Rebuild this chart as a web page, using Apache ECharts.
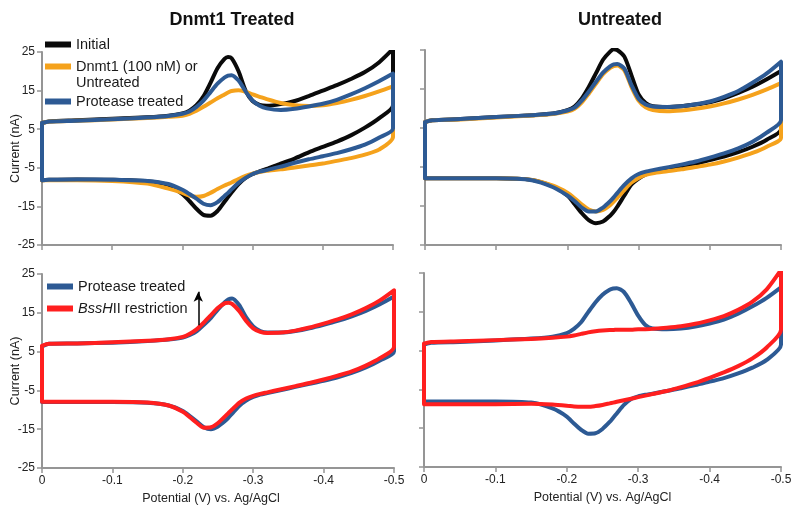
<!DOCTYPE html>
<html><head><meta charset="utf-8">
<script src="https://cdn.jsdelivr.net/npm/echarts@6/dist/echarts.min.js"></script>
<style>html,body{margin:0;padding:0;background:#fff}#c{width:800px;height:514px}</style>
</head><body><div id="c"></div>
<script>
// Potential grid (V vs Ag/AgCl)
const potential = [0, -0.01, -0.05, -0.1, -0.15, -0.18, -0.2, -0.21, -0.22, -0.23, -0.24, -0.25, -0.26, -0.265, -0.27, -0.28, -0.29, -0.3, -0.31, -0.32, -0.34, -0.36, -0.38, -0.4, -0.42, -0.44, -0.46, -0.48, -0.5];
const yTickValues = [-25, -15, -5, 5, 15, 25];
const xTickValues = [0, -0.1, -0.2, -0.3, -0.4, -0.5];
const panelTitles = ['Dnmt1 Treated', 'Untreated'];

// Panel 1: Dnmt1 Treated (top-left)
const tlInitialUp   = [6.6, 7.0, 7.3, 7.7, 8.1, 8.5, 9.1, 9.8, 11.2, 13.5, 17.0, 20.8, 23.2, 23.7, 23.4, 20.0, 15.0, 12.3, 11.3, 11.1, 11.5, 12.3, 13.6, 15.0, 16.4, 18.0, 19.8, 22.3, 25.8];
const tlInitialLow  = [-8.2, -8.1, -8.0, -8.1, -8.5, -9.5, -11.8, -13.6, -15.6, -17.2, -17.4, -16.2, -13.8, -12.6, -11.4, -9.2, -7.6, -6.6, -5.9, -5.3, -3.9, -2.6, -1.0, 0.4, 1.8, 3.4, 5.4, 7.8, 11.2];
const tlDnmtUp      = [6.6, 7.0, 7.2, 7.5, 7.9, 8.2, 8.5, 9.0, 9.8, 10.8, 11.9, 13.0, 14.0, 14.5, 14.9, 15.1, 14.7, 14.0, 13.4, 12.8, 11.8, 11.2, 11.0, 11.2, 11.8, 12.6, 13.6, 14.8, 16.1];
const tlDnmtLow     = [-8.2, -8.2, -8.2, -8.4, -9.1, -10.4, -11.5, -12.2, -12.5, -12.3, -11.5, -10.5, -9.6, -9.2, -8.8, -7.9, -7.1, -6.5, -6.1, -5.8, -5.4, -4.9, -4.4, -3.9, -3.2, -2.5, -1.6, -0.3, 3.0];
const tlProteaseUp  = [6.6, 7.0, 7.2, 7.6, 8.0, 8.4, 9.0, 9.6, 10.8, 12.4, 14.6, 16.8, 18.4, 18.9, 19.0, 17.6, 14.8, 12.4, 11.1, 10.4, 10.0, 10.3, 10.9, 11.6, 12.6, 14.0, 15.6, 17.4, 19.4];
const tlProteaseLow = [-8.2, -8.1, -8.0, -8.1, -8.4, -9.2, -10.7, -11.8, -13.0, -14.3, -14.7, -13.9, -12.3, -11.5, -10.6, -8.9, -7.6, -6.6, -6.0, -5.6, -4.7, -3.7, -2.8, -2.0, -1.2, -0.2, 1.0, 2.8, 5.2];

// Panel 2: Untreated (top-right)
const trInitialUp   = [6.5, 7.0, 7.3, 7.8, 8.3, 8.7, 9.6, 10.5, 12.5, 15.5, 19.0, 22.5, 24.6, 25.2, 25.0, 23.3, 18.5, 13.6, 11.4, 10.6, 10.4, 10.6, 11.0, 11.6, 12.6, 14.0, 15.6, 17.5, 19.6];
const trInitialLow  = [-7.9, -7.9, -7.9, -7.9, -8.3, -10.0, -12.3, -14.5, -16.8, -18.6, -19.4, -19.0, -17.5, -16.5, -15.2, -12.3, -9.5, -8.0, -6.9, -6.2, -5.4, -4.9, -4.2, -3.2, -2.3, -1.2, 0.2, 2.0, 4.7];
const trDnmtUp      = [6.5, 7.0, 7.2, 7.7, 8.2, 8.6, 9.2, 9.9, 11.5, 13.8, 16.3, 18.8, 20.4, 20.9, 21.0, 19.8, 15.5, 12.0, 10.3, 9.6, 9.3, 9.5, 9.9, 10.5, 11.3, 12.3, 13.5, 14.9, 16.5];
const trDnmtLow     = [-7.9, -7.9, -7.9, -7.9, -8.3, -9.8, -11.6, -13.0, -14.6, -15.9, -16.4, -16.0, -14.8, -13.9, -12.9, -10.9, -9.0, -7.8, -7.0, -6.6, -6.1, -5.6, -5.0, -4.4, -3.6, -2.6, -1.4, 0.2, 2.5];
const trProteaseUp  = [6.5, 7.0, 7.3, 7.8, 8.3, 8.7, 9.5, 10.2, 12.0, 14.3, 16.8, 19.2, 20.8, 21.3, 21.4, 20.2, 16.0, 12.5, 11.0, 10.5, 10.4, 10.6, 11.1, 11.8, 13.0, 14.5, 16.6, 19.0, 22.0];
const trProteaseLow = [-7.9, -7.9, -7.9, -7.9, -8.4, -10.2, -12.3, -13.7, -15.4, -16.4, -16.4, -15.4, -13.8, -12.8, -11.7, -9.6, -7.9, -6.8, -6.2, -5.8, -5.1, -4.4, -3.6, -2.6, -1.5, -0.2, 1.5, 3.8, 7.0];

// Panel 3: Dnmt1 Treated (bottom-left)
const blProteaseUp  = [6.3, 7.0, 7.1, 7.3, 7.7, 8.1, 8.6, 9.3, 10.3, 11.9, 13.7, 15.9, 17.8, 18.5, 18.7, 17.0, 13.8, 11.5, 10.3, 9.9, 9.9, 10.3, 11.0, 11.9, 12.9, 14.1, 15.5, 17.2, 19.2];
const blProteaseLow = [-8.0, -8.0, -8.0, -8.0, -8.2, -8.9, -10.3, -11.6, -13.0, -14.5, -15.0, -14.3, -12.9, -12.0, -11.0, -9.0, -7.6, -6.7, -6.1, -5.7, -4.9, -4.1, -3.3, -2.5, -1.6, -0.5, 0.9, 2.7, 5.0];
const blBssUp       = [6.5, 7.0, 7.1, 7.4, 7.8, 8.2, 8.8, 9.6, 10.8, 12.5, 14.4, 16.3, 17.5, 17.6, 17.3, 15.5, 12.9, 11.0, 10.1, 9.8, 9.9, 10.4, 11.2, 12.2, 13.3, 14.6, 16.2, 18.2, 20.8];
const blBssLow      = [-7.9, -7.9, -7.9, -7.9, -8.1, -8.9, -10.5, -11.9, -13.4, -14.6, -14.5, -13.4, -11.7, -10.8, -9.9, -8.2, -7.1, -6.4, -5.9, -5.5, -4.7, -3.9, -3.1, -2.2, -1.2, -0.1, 1.4, 3.3, 6.2];

// Panel 4: Untreated (bottom-right)
const brProteaseUp  = [6.5, 7.0, 7.2, 7.6, 8.1, 8.6, 9.5, 10.6, 12.3, 14.9, 17.4, 19.4, 20.7, 21.0, 21.1, 20.1, 17.3, 14.0, 11.6, 10.7, 10.5, 10.7, 11.2, 12.0, 13.0, 14.5, 16.4, 18.6, 21.3];
const brProteaseLow = [-8.1, -8.1, -8.1, -8.1, -8.4, -9.9, -12.0, -13.8, -15.4, -16.4, -16.3, -15.2, -13.4, -12.3, -11.2, -9.0, -7.5, -6.8, -6.4, -6.1, -5.4, -4.7, -3.9, -3.0, -2.1, -0.9, 0.6, 2.6, 6.5];
const brBssUp       = [6.8, 7.2, 7.4, 7.7, 8.0, 8.3, 8.6, 8.9, 9.3, 9.7, 10.0, 10.2, 10.3, 10.3, 10.4, 10.4, 10.4, 10.5, 10.5, 10.6, 10.9, 11.3, 11.9, 12.8, 13.9, 15.5, 17.6, 20.8, 25.8];
const brBssLow      = [-8.8, -8.8, -8.8, -8.8, -8.7, -8.9, -9.2, -9.4, -9.5, -9.5, -9.3, -9.0, -8.6, -8.4, -8.2, -7.8, -7.4, -7.0, -6.6, -6.2, -5.4, -4.4, -3.3, -2.0, -0.6, 1.0, 3.0, 5.8, 10.4];

// Arrow (annotation) in bottom-left panel: potential, from current, to current
const arrowPotential = -0.222;
const arrowFrom = 11.8;
const arrowTo = 20.4;

const C_BLACK = '#0a0a0a', C_ORANGE = '#f5a21c', C_BLUE = '#2d5a94', C_RED = '#ff1f1f';
const N_INIT = 'Initial', N_DNMT = 'Dnmt1 (100 nM) or Untreated', N_PROT = 'Protease treated', N_BSS = 'BssHII restriction';
const FONT = 'Liberation Sans, Arial, sans-serif';

function loop(up, low) {
  const d = [];
  for (let i = 0; i < potential.length; i++) d.push([potential[i], up[i]]);
  for (let i = potential.length - 1; i >= 0; i--) d.push([potential[i], low[i]]);
  d.push([potential[0], up[0]]);
  return d;
}
function ser(name, idx, up, low, color, extra) {
  return Object.assign({
    type: 'line', name: name, xAxisIndex: idx, yAxisIndex: idx,
    data: loop(up, low), symbol: 'none', showSymbol: false, smooth: 0.25,
    lineStyle: { width: 4, color: color, join: 'round', cap: 'round' },
    itemStyle: { color: color }, clip: true
  }, extra || {});
}

const grids = [
  { left: 42, top: 52, width: 351, height: 193 },
  { left: 425, top: 50, width: 356, height: 195 },
  { left: 42, top: 274, width: 352, height: 194 },
  { left: 424, top: 273, width: 357, height: 194 }
];
const axisColor = '#959595';
const xAxes = grids.map((g, i) => ({
  type: 'value', gridIndex: i, min: -0.5, max: 0, inverse: true, interval: 0.1,
  axisLine: { show: true, onZero: false, lineStyle: { color: axisColor, width: 2 } },
  axisTick: { show: true, inside: false, length: 5, lineStyle: { color: axisColor, width: 1.5 }, customValues: xTickValues },
  axisLabel: { show: i >= 2, color: '#222', fontSize: 12, fontFamily: FONT, margin: 7,
    customValues: xTickValues, formatter: v => (v === 0 ? '0' : String(+v.toFixed(1))) },
  splitLine: { show: false },
  name: i >= 2 ? 'Potential (V) vs. Ag/AgCl' : '', nameLocation: 'middle', nameGap: 24,
  nameTextStyle: { color: '#222', fontSize: 12.5, fontFamily: FONT, padding: i === 2 ? [0, 14, 0, 0] : 0 }
}));
const yAxes = grids.map((g, i) => ({
  type: 'value', gridIndex: i, min: -25, max: 25,
  axisLine: { show: true, onZero: false, lineStyle: { color: axisColor, width: 2 } },
  axisTick: { show: true, inside: false, length: 5, lineStyle: { color: axisColor, width: 1.5 }, customValues: yTickValues },
  axisLabel: { show: i % 2 === 0, color: '#222', fontSize: 12, fontFamily: FONT, margin: 7, customValues: yTickValues },
  splitLine: { show: false },
  name: i % 2 === 0 ? 'Current (nA)' : '', nameLocation: 'middle', nameGap: 20, nameMoveOverlap: false,
  nameTextStyle: { color: '#222', fontSize: 12.5, fontFamily: FONT }
}));

const legendBase = { orient: 'vertical', icon: 'rect', itemWidth: 26, itemHeight: 6, itemGap: 0, padding: 0,
  textStyle: { fontSize: 14.5, color: '#1a1a1a', fontFamily: FONT }, selectedMode: false };

const option = {
  animation: false,
  backgroundColor: '#fff',
  title: [
    { text: panelTitles[0], left: 227, top: 6, textAlign: 'center', textStyle: { fontSize: 18, fontWeight: 'bold', color: '#111', fontFamily: FONT } },
    { text: panelTitles[1], left: 615, top: 6, textAlign: 'center', textStyle: { fontSize: 18, fontWeight: 'bold', color: '#111', fontFamily: FONT } }
  ],
  legend: [
    Object.assign({}, legendBase, { left: 45, top: 37, data: [N_INIT] }),
    Object.assign({}, legendBase, { left: 45, top: 59, data: [N_DNMT], formatter: () => 'Dnmt1 (100 nM) or' }),
    Object.assign({}, legendBase, { left: 45, top: 94, data: [N_PROT] }),
    Object.assign({}, legendBase, { left: 47, top: 279, data: [N_PROT] }),
    Object.assign({}, legendBase, { left: 47, top: 301, data: [N_BSS],
      formatter: () => '{i|BssH}II restriction',
      textStyle: Object.assign({}, legendBase.textStyle, { rich: { i: { fontStyle: 'italic', fontSize: 14.5, color: '#1a1a1a', fontFamily: FONT } } }) })
  ],
  graphic: [
    { type: 'text', left: 76, top: 75, silent: true,
      style: { text: 'Untreated', fill: '#1a1a1a', font: '14.5px ' + FONT } }
  ],
  grid: grids,
  xAxis: xAxes,
  yAxis: yAxes,
  series: [
    ser(N_INIT, 0, tlInitialUp, tlInitialLow, C_BLACK),
    ser(N_DNMT, 0, tlDnmtUp, tlDnmtLow, C_ORANGE),
    ser(N_PROT, 0, tlProteaseUp, tlProteaseLow, C_BLUE),
    ser(N_INIT, 1, trInitialUp, trInitialLow, C_BLACK),
    ser(N_DNMT, 1, trDnmtUp, trDnmtLow, C_ORANGE),
    ser(N_PROT, 1, trProteaseUp, trProteaseLow, C_BLUE),
    ser(N_PROT, 2, blProteaseUp, blProteaseLow, C_BLUE),
    ser(N_BSS, 2, blBssUp, blBssLow, C_RED, {
      markLine: { silent: true, symbol: ['none', 'arrow'], symbolSize: [7, 10],
        lineStyle: { color: '#000', width: 1.5, type: 'solid' }, label: { show: false },
        data: [[{ coord: [arrowPotential, arrowFrom] }, { coord: [arrowPotential, arrowTo] }]] }
    }),
    ser(N_PROT, 3, brProteaseUp, brProteaseLow, C_BLUE),
    ser(N_BSS, 3, brBssUp, brBssLow, C_RED)
  ]
};
echarts.init(document.getElementById('c'), null, { renderer: 'canvas' }).setOption(option);
</script>
</body></html>
